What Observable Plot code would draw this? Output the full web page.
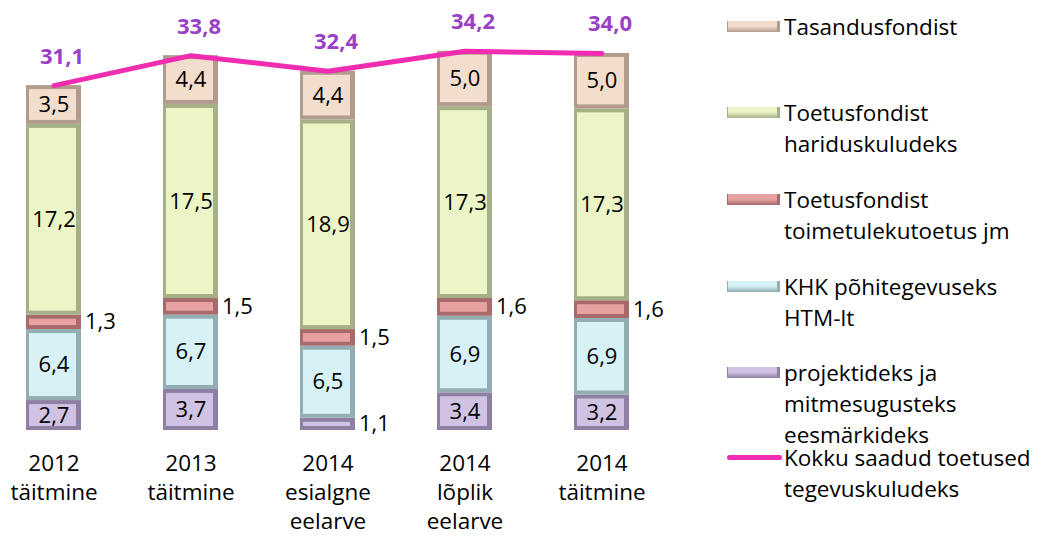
<!DOCTYPE html>
<html>
<head>
<meta charset="utf-8">
<script src="https://cdn.jsdelivr.net/npm/d3@7"></script>
<script src="https://cdn.jsdelivr.net/npm/@observablehq/plot@0.6"></script>
<style>
  html, body { margin: 0; padding: 0; background: #fff; }
  #wrap { position: relative; width: 1040px; height: 539px; font-family: "Open Sans", sans-serif; }
  #chart { position: absolute; left: 0; top: 0; }
  .leg { position: absolute; left: 727px; font-size: 22.5px; line-height: 31px; color: #000; }
  .leg .sw { position: absolute; left: 0; top: 10px; width: 53px; height: 11px; box-sizing: border-box; }
  .leg .ln { position: absolute; left: 0; top: 13px; width: 55px; height: 5px; border-radius: 3px; }
  .leg .tx { position: absolute; left: 57px; top: 0; white-space: nowrap; }
</style>
</head>
<body>
<div id="wrap"><div id="chart"></div><div id="legend"></div></div>
<script>
const categories = ["2012\ntäitmine", "2013\ntäitmine", "2014\nesialgne\neelarve", "2014\nlõplik\neelarve", "2014\ntäitmine"];
const seriesNames = [
  "projektideks ja mitmesugusteks eesmärkideks",
  "KHK põhitegevuseks HTM-lt",
  "Toetusfondist toimetulekutoetus jm",
  "Toetusfondist hariduskuludeks",
  "Tasandusfondist"
];
const projektideks = [2.7, 3.7, 1.1, 3.4, 3.2];
const khk = [6.4, 6.7, 6.5, 6.9, 6.9];
const toimetulek = [1.3, 1.5, 1.5, 1.6, 1.6];
const haridus = [17.2, 17.5, 18.9, 17.3, 17.3];
const tasandus = [3.5, 4.4, 4.4, 5.0, 5.0];
const totals = [31.1, 33.8, 32.4, 34.2, 34.0];
const totalName = "Kokku saadud toetused tegevuskuludeks";

const faceColors = ["#D0C2E2", "#D6F2F6", "#E9A2A2", "#EBF5C6", "#F3DDCD"];
const edgeColors = ["#8F80A3", "#93AEB2", "#A86A6A", "#A5B087", "#B09B8D"];
const lineColor = "#F02DB0";
const labelColor = "#9B3FC8";

const seriesValues = [projektideks, khk, toimetulek, haridus, tasandus];
const rows = [];
seriesNames.forEach((s, si) => {
  categories.forEach((c, ci) => {
    rows.push({cat: c, series: s, si, value: seriesValues[si][ci]});
  });
});
const totalRows = categories.map((c, i) => ({cat: c, total: totals[i]}));
const fmt = v => d3.format(".1f")(v).replace(".", ",");

const chart = Plot.plot({
  width: 1040,
  height: 539,
  marginTop: 0,
  marginBottom: 109,
  style: {fontFamily: "'Open Sans', sans-serif", fontSize: "22px", background: "transparent"},
  x: {domain: categories, range: [-17, 672], paddingInner: 0.6, paddingOuter: 0.3, label: null},
  y: {domain: [0, 40], range: [430, -13.6], axis: null},
  marks: [
    Plot.barY(rows, Plot.stackY({x: "cat", y: "value", z: "series", fill: d => edgeColors[d.si]})),
    Plot.barY(rows, Plot.stackY({x: "cat", y: "value", z: "series", fill: d => faceColors[d.si],
      insetLeft: 3, insetRight: 5, insetTop: 4, insetBottom: 4})),
    Plot.text(rows, Plot.stackY({x: "cat", y: "value", z: "series",
      text: d => d.value >= 2 ? fmt(d.value) : "", fontSize: 22, fill: "#000"})),
    Plot.text(rows, Plot.stackY({x: "cat", y: "value", z: "series",
      text: d => d.value < 2 ? fmt(d.value) : "", fontSize: 22, fill: "#000", textAnchor: "start", dx: 31})),
    Plot.line(totalRows, {x: "cat", y: "total", stroke: lineColor, strokeWidth: 5, strokeLinecap: "round"}),
    Plot.text(totalRows, {x: "cat", y: "total", text: d => fmt(d.total), dy: -29, dx: 8,
      fill: labelColor, fontWeight: "bold", fontSize: 22}),
    Plot.axisX({tickSize: 0, tickPadding: 20, fontSize: 22.5, lineHeight: 1.29, label: null, lineAnchor: "top"})
  ]
});
document.getElementById("chart").appendChild(chart);

// Legend (right side)
const legendItems = [
  {name: "Tasandusfondist", si: 4, top: 11},
  {name: "Toetusfondist\nhariduskuludeks", si: 3, top: 97},
  {name: "Toetusfondist\ntoimetulekutoetus jm", si: 2, top: 184},
  {name: "KHK põhitegevuseks\nHTM-lt", si: 1, top: 271},
  {name: "projektideks ja\nmitmesugusteks\neesmärkideks", si: 0, top: 357},
  {name: totalName.replace(" tegevuskuludeks", "\ntegevuskuludeks"), line: true, top: 442}
];
const legend = d3.select("#legend");
legendItems.forEach(it => {
  const g = legend.append("div").attr("class", "leg").style("top", it.top + "px");
  if (it.line) {
    g.append("div").attr("class", "ln").style("background", lineColor);
  } else {
    g.append("div").attr("class", "sw")
      .style("background", `linear-gradient(to bottom, ${faceColors[it.si]} 0%, ${faceColors[it.si]} 45%, ${edgeColors[it.si]} 100%)`)
      .style("border-right", `3px solid ${edgeColors[it.si]}`)
      .style("border-left", `1px solid ${edgeColors[it.si]}`);
  }
  const t = g.append("div").attr("class", "tx");
  it.name.split("\n").forEach(line => t.append("div").text(line));
});
</script>
</body>
</html>
